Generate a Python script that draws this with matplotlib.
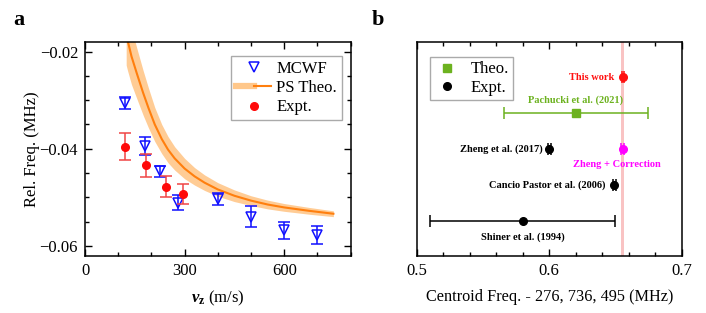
import matplotlib
matplotlib.use("Agg")
import matplotlib.pyplot as plt
from matplotlib.ticker import MultipleLocator
from matplotlib.lines import Line2D
from matplotlib.legend_handler import HandlerTuple

plt.rcParams['font.family'] = ['Liberation Serif', 'DejaVu Serif']
plt.rcParams['mathtext.fontset'] = 'custom'
plt.rcParams['mathtext.rm'] = 'Liberation Serif'
plt.rcParams['mathtext.it'] = 'Liberation Serif:italic'
plt.rcParams['mathtext.bf'] = 'Liberation Serif:bold'
plt.rcParams['mathtext.bfit'] = 'Liberation Serif:bold:italic'

# ---------------- Panel a data ----------------
mcwf_v = [120, 180, 225, 280, 400, 500, 600, 700]
mcwf_y = [-0.0306, -0.0395, -0.0447, -0.0511, -0.0504, -0.0540, -0.0568, -0.0578]
mcwf_err = [0.0012, 0.0019, 0.0012, 0.0015, 0.0012, 0.0021, 0.0018, 0.0019]

expt_v = [120, 185, 245, 295]
expt_y = [-0.0396, -0.0434, -0.0478, -0.0493]
expt_err = [0.0028, 0.0024, 0.0021, 0.0020]

theo_v = [124, 128, 140, 156, 175, 191, 210, 231, 250, 270, 300, 330, 360, 400,
          450, 500, 550, 600, 675, 748]
theo_y = [-0.0162, -0.0176, -0.0210, -0.0245, -0.0285, -0.0316, -0.0350, -0.0380,
          -0.0402, -0.0420, -0.0441, -0.0457, -0.0470, -0.0484, -0.0497, -0.0507,
          -0.0515, -0.0521, -0.0528, -0.0534]
theo_hw = [0.0066, 0.0063, 0.0058, 0.0052, 0.0046, 0.0041, 0.0035, 0.0030, 0.0027,
           0.0024, 0.0021, 0.0018, 0.0016, 0.0014, 0.0012, 0.0010, 0.0009, 0.0008,
           0.0007, 0.0006]

# ---------------- Panel b data ----------------
ref_names = ["This work", "Pachucki et al. (2021)", "Zheng et al. (2017)",
             "Zheng + Correction", "Cancio Pastor et al. (2006)", "Shiner et al. (1994)"]
ref_vals = [0.6555, 0.6202, 0.6001, 0.6555, 0.6491, 0.5800]
ref_errs = [0.0008, 0.0545, 0.0010, 0.0010, 0.0010, 0.0700]
ref_rows = [5, 4, 3, 3, 2, 1]
ref_kind = ["expt", "theo", "expt", "expt", "expt", "expt"]
ref_colors = ["#ff1010", "#6cb21f", "#000000", "#ff00ff", "#000000", "#000000"]
this_work_band = 0.0012

fig = plt.figure(figsize=(7.06, 3.13), dpi=100)
axa = fig.add_axes([0.1204, 0.1821, 0.3763, 0.6828])
axb = fig.add_axes([0.5902, 0.1821, 0.3754, 0.6828])

fs = 12
blue = "#1010ff"
red = "#ff0a0a"
orange = "#ff7f0e"
band = "#ffc78a"

lo = [y - h for y, h in zip(theo_y, theo_hw)]
hi = [y + h for y, h in zip(theo_y, theo_hw)]
axa.fill_between(theo_v, lo, hi, color=band, lw=0, alpha=0.9, zorder=1)
axa.plot(theo_v, theo_y, color=orange, lw=1.5, zorder=2)

axa.errorbar(mcwf_v, mcwf_y, yerr=mcwf_err, fmt='v', ms=6.5, mfc='none', mec=blue,
             mew=1.1, ecolor=blue, elinewidth=1.1, capsize=4, capthick=1.1, zorder=3)
axa.errorbar(expt_v, expt_y, yerr=expt_err, fmt='o', ms=5.5, mfc=red, mec=red,
             ecolor="#f04545", elinewidth=1.1, capsize=4, capthick=1.1, zorder=4)

axa.set_xlim(0, 800)
axa.set_ylim(-0.0621, -0.0181)
axa.xaxis.set_major_locator(MultipleLocator(300))
axa.xaxis.set_minor_locator(MultipleLocator(100))
axa.yaxis.set_major_locator(MultipleLocator(0.02))
axa.yaxis.set_minor_locator(MultipleLocator(0.005))
axa.yaxis.set_major_formatter(plt.FuncFormatter(lambda v, p: f"{v:.2f}".replace('-', '\u2212')))
axa.set_xlabel(r"$\boldsymbol{v}_{\mathbf{z}}$ (m/s)", fontsize=fs, labelpad=7)
axa.set_ylabel("Rel. Freq. (MHz)", fontsize=fs, labelpad=0)

h1 = Line2D([], [], marker='v', ls='none', ms=6.5, mfc='none', mec=blue, mew=1.1)
h2b = Line2D([], [], color=band, lw=4.5)
h2l = Line2D([], [], color=orange, lw=1.5)
h3 = Line2D([], [], marker='o', ls='none', ms=5.5, mfc=red, mec=red)
axa.legend([h1, (h2b, h2l), h3], ["MCWF", "PS Theo.", "Expt."],
           handler_map={tuple: HandlerTuple(ndivide=None, pad=0)},
           loc='upper right', bbox_to_anchor=(0.967, 0.937), fontsize=fs, frameon=True,
           fancybox=False, edgecolor="#aaaaaa", framealpha=1, handlelength=2.1,
           handletextpad=0.3, borderpad=0.3, borderaxespad=0, labelspacing=0.2)

# ---------------- Panel b ----------------
axb.axvspan(ref_vals[0] - this_work_band, ref_vals[0] + this_work_band,
            color="#f8b4b4", alpha=0.8, lw=0, zorder=0)
for name, val, err, row, kind, col in zip(ref_names, ref_vals, ref_errs, ref_rows, ref_kind, ref_colors):
    mk = 's' if kind == "theo" else 'o'
    axb.errorbar([val], [row], xerr=[err], fmt=mk, ms=5.5, mfc=col, mec=col, ecolor=col,
                 elinewidth=1.1, capsize=4, capthick=1.1, zorder=3)

lab_fs = 7.5
axb.text(ref_vals[0] - 0.0062, ref_rows[0], ref_names[0], color=ref_colors[0], fontsize=lab_fs,
         fontweight='bold', ha='right', va='center')
axb.text(ref_vals[1], ref_rows[1] + 0.36, ref_names[1], color=ref_colors[1], fontsize=lab_fs,
         fontweight='bold', ha='center', va='center')
axb.text(ref_vals[2] - 0.0052, ref_rows[2], ref_names[2], color=ref_colors[2], fontsize=lab_fs,
         fontweight='bold', ha='right', va='center')
axb.text(ref_vals[3] - 0.0045, ref_rows[3] - 0.44, ref_names[3], color=ref_colors[3], fontsize=lab_fs,
         fontweight='bold', ha='center', va='center')
axb.text(ref_vals[4] - 0.0065, ref_rows[4], ref_names[4], color=ref_colors[4], fontsize=lab_fs,
         fontweight='bold', ha='right', va='center')
axb.text(ref_vals[5], ref_rows[5] - 0.47, ref_names[5], color=ref_colors[5], fontsize=lab_fs,
         fontweight='bold', ha='center', va='center')

axb.set_xlim(0.5, 0.7)
axb.set_ylim(0.02, 5.97)
axb.xaxis.set_major_locator(MultipleLocator(0.1))
axb.xaxis.set_minor_locator(MultipleLocator(0.02))
axb.xaxis.set_major_formatter(plt.FuncFormatter(lambda v, p: f"{v:.1f}"))
axb.set_yticks([])
axb.set_xlabel("Centroid Freq. - 276, 736, 495 (MHz)", fontsize=11.7, labelpad=7)

g1 = Line2D([], [], marker='s', ls='none', ms=5.5, mfc=ref_colors[1], mec=ref_colors[1])
g2 = Line2D([], [], marker='o', ls='none', ms=5.5, mfc='black', mec='black')
axb.legend([g1, g2], ["Theo.", "Expt."], loc='upper left', bbox_to_anchor=(0.05, 0.93),
           fontsize=fs, frameon=True, fancybox=False, edgecolor="#aaaaaa", framealpha=1,
           handlelength=1.6, handletextpad=0.6, borderpad=0.25, borderaxespad=0, labelspacing=0.15)

for ax in (axa, axb):
    ax.tick_params(which='both', direction='in', top=True, right=True, labelsize=fs, pad=5)
    ax.tick_params(which='major', length=5, width=1)
    ax.tick_params(which='minor', length=3, width=1)
    for s in ax.spines.values():
        s.set_linewidth(1.1)
axb.tick_params(which='both', left=False, right=False)

fig.text(0.019, 0.935, "a", fontsize=16, fontweight='bold', ha='left', va='center')
fig.text(0.526, 0.935, "b", fontsize=16, fontweight='bold', ha='left', va='center')

fig.savefig("out.png", dpi=100)
